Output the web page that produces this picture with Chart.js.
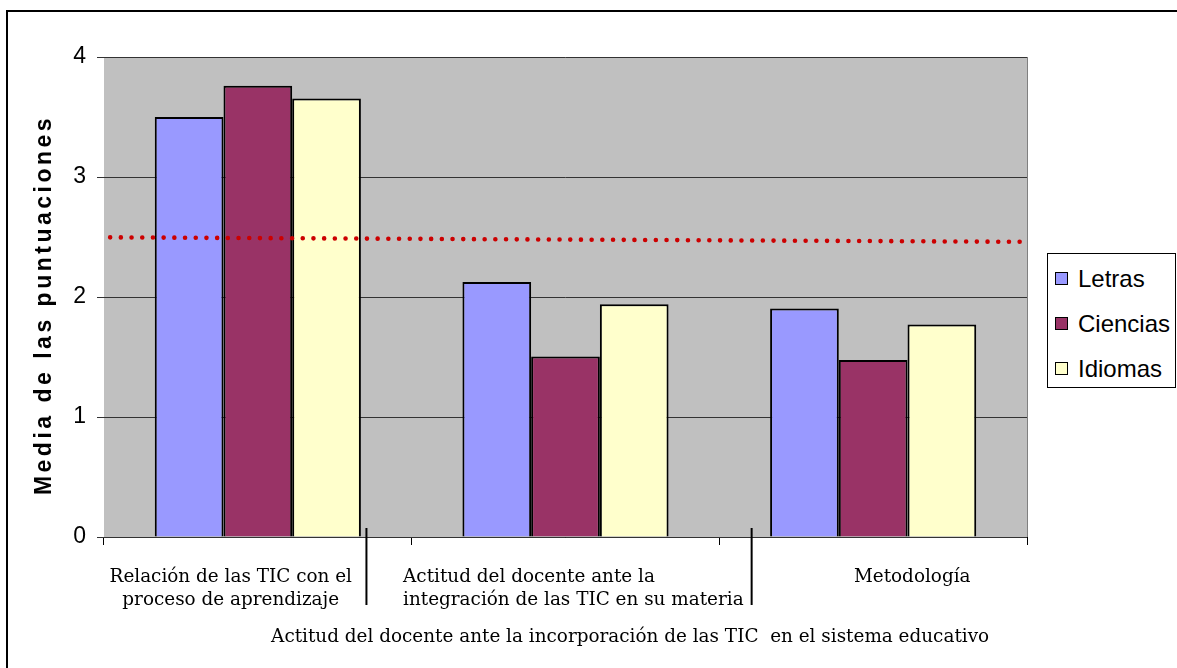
<!DOCTYPE html>
<html>
<head>
<meta charset="utf-8">
<script src="https://cdn.jsdelivr.net/npm/chart.js@4"></script>
<style>
  html, body { margin: 0; padding: 0; background: #fff; }
  #wrap { position: relative; width: 1177px; height: 668px; overflow: hidden; }
  #frame { position: absolute; left: 6px; top: 10px; width: 1300px; height: 800px;
           border-left: 2px solid #000; border-top: 2px solid #000; }
  canvas { position: absolute; left: 0; top: 0; }
  #legend { position: absolute; left: 1047px; top: 253px; width: 129px; height: 135px;
            border: 1px solid #000; background: #fff; box-sizing: border-box;
            font-family: "Liberation Sans", Arial, sans-serif; font-size: 24px; color: #000; }
  #legend .item { position: absolute; left: 7px; height: 26px; line-height: 26px; white-space: nowrap; }
  #legend .sw { display: inline-block; width: 11px; height: 11px; border: 1.5px solid #000;
                vertical-align: middle; margin-right: 10px; position: relative; top: -2px; }
</style>
</head>
<body>
<div id="wrap">
  <div id="frame"></div>
  <canvas id="c" width="1177" height="668"></canvas>
  <div id="legend"></div>
</div>
<script>
// ---- data ----
const categories = [
  ["Relación de las TIC con el", "proceso de aprendizaje"],
  ["Actitud del docente ante la", "integración de las TIC en su materia"],
  ["Metodología"]
];
const groupLabel = "Actitud del docente ante la incorporación de las TIC  en el sistema educativo";
const seriesNames = ["Letras", "Ciencias", "Idiomas"];
const letras   = [3.50, 2.125, 1.905];
const ciencias = [3.76, 1.505, 1.475];
const idiomas  = [3.655, 1.94, 1.77];
const mediaGeneral = [2.497, 2.46];   // dotted reference line, left and right ends
const yTicks = [0, 1, 2, 3, 4];
const yTitle = "Media de las puntuaciones";

// ---- styles ----
const colors = ["#9999FF", "#993366", "#FFFFCC"];
const serif = '"DejaVu Serif", Georgia, serif';
const sans = '"Liberation Sans", Arial, sans-serif';

// legend
const lg = document.getElementById('legend');
const rowTops = [12, 57, 102];
seriesNames.forEach((n, i) => {
  const d = document.createElement('div');
  d.className = 'item';
  d.style.top = rowTops[i] + 'px';
  d.innerHTML = '<span class="sw" style="background:' + colors[i] + '"></span>' + n;
  lg.appendChild(d);
});

const decor = {
  id: 'decor',
  beforeDatasetsDraw(chart) {
    const { ctx, chartArea: a } = chart;
    ctx.save();
    ctx.fillStyle = '#C0C0C0';
    ctx.fillRect(a.left, a.top, a.right - a.left, a.bottom - a.top);
    const y = chart.scales.y;
    ctx.strokeStyle = '#333';
    ctx.lineWidth = 1;
    yTicks.forEach(t => {
      const py = Math.round(y.getPixelForValue(t)) + 0.5;
      ctx.beginPath(); ctx.moveTo(a.left, py); ctx.lineTo(a.right, py); ctx.stroke();
    });
    ctx.strokeStyle = '#808080';
    ctx.beginPath(); ctx.moveTo(a.right + 0.5, a.top); ctx.lineTo(a.right + 0.5, a.bottom); ctx.stroke();
    ctx.restore();
  },
  afterDraw(chart) {
    const { ctx, chartArea: a } = chart;
    const x = chart.scales.x;
    const cw = (a.right - a.left) / categories.length;
    ctx.save();
    ctx.fillStyle = '#000';
    ctx.textBaseline = 'alphabetic';
    ctx.font = '18.4px ' + serif;
    const b1 = a.bottom + 45, b2 = a.bottom + 68;
    let cx = x.getPixelForValue(0) - 0.088 * cw;
    ctx.textAlign = 'center';
    categories[0].forEach((s, i) => ctx.fillText(s, cx, i ? b2 : b1));
    cx = x.getPixelForValue(1) - 0.528 * cw;
    ctx.textAlign = 'left';
    categories[1].forEach((s, i) => ctx.fillText(s, cx, i ? b2 : b1));
    cx = x.getPixelForValue(2) + 0.127 * cw;
    ctx.textAlign = 'center';
    categories[2].forEach((s, i) => ctx.fillText(s, cx, i ? b2 : b1));
    ctx.fillText(groupLabel, x.getPixelForValue(1) + 0.21 * cw, a.bottom + 105);
    ctx.strokeStyle = '#000';
    ctx.lineWidth = 2;
    [a.left + cw - 0.147 * cw, a.left + 2 * cw + 0.105 * cw].forEach(px => {
      ctx.beginPath(); ctx.moveTo(px, a.bottom - 9); ctx.lineTo(px, a.bottom + 68); ctx.stroke();
    });
    ctx.translate(45, (a.top + a.bottom) / 2 + 8);
    ctx.rotate(-Math.PI / 2);
    ctx.font = 'bold 23px ' + sans;
    ctx.letterSpacing = '3.5px';
    ctx.textAlign = 'center';
    ctx.textBaseline = 'middle';
    ctx.fillText(yTitle, 0, 0);
    ctx.restore();
  }
};

const barDs = (label, data, i) => ({
  type: 'bar', label, data, backgroundColor: colors[i], borderColor: '#000', borderWidth: 2,
  categoryPercentage: 0.67, barPercentage: 1.0
});

new Chart(document.getElementById('c'), {
  type: 'bar',
  data: {
    labels: categories.map(c => c.join(' ')),
    datasets: [
      {
        type: 'line', label: 'media', parsing: false,
        data: [{ x: -0.48, y: mediaGeneral[0] }, { x: 2.48, y: mediaGeneral[1] }],
        borderColor: '#CC0000', borderWidth: 4.6, borderDash: [0, 10.7],
        borderCapStyle: 'round', pointRadius: 0, fill: false, tension: 0
      },
      barDs(seriesNames[0], letras, 0),
      barDs(seriesNames[1], ciencias, 1),
      barDs(seriesNames[2], idiomas, 2)
    ]
  },
  options: {
    responsive: false, animation: false, devicePixelRatio: 1,
    layout: { padding: { top: 57, right: 150, left: 0, bottom: 0 } },
    plugins: { legend: { display: false }, tooltip: { enabled: false } },
    scales: {
      x: {
        grid: { drawOnChartArea: false, color: '#000', tickLength: 8, lineWidth: 1 },
        border: { color: '#000', width: 1 },
        ticks: { callback: () => '' },
        afterFit(s) { s.height = 131; }
      },
      y: {
        min: 0, max: 4,
        afterBuildTicks(s) { s.ticks = yTicks.map(v => ({ value: v })); },
        grid: { color: '#333', tickLength: 7, lineWidth: 1 },
        border: { color: '#404040', width: 1 },
        ticks: { font: { family: sans, size: 23 }, color: '#000', padding: 11 },
        afterFit(s) { s.width = 104; }
      }
    }
  },
  plugins: [decor]
});
</script>
</body>
</html>
